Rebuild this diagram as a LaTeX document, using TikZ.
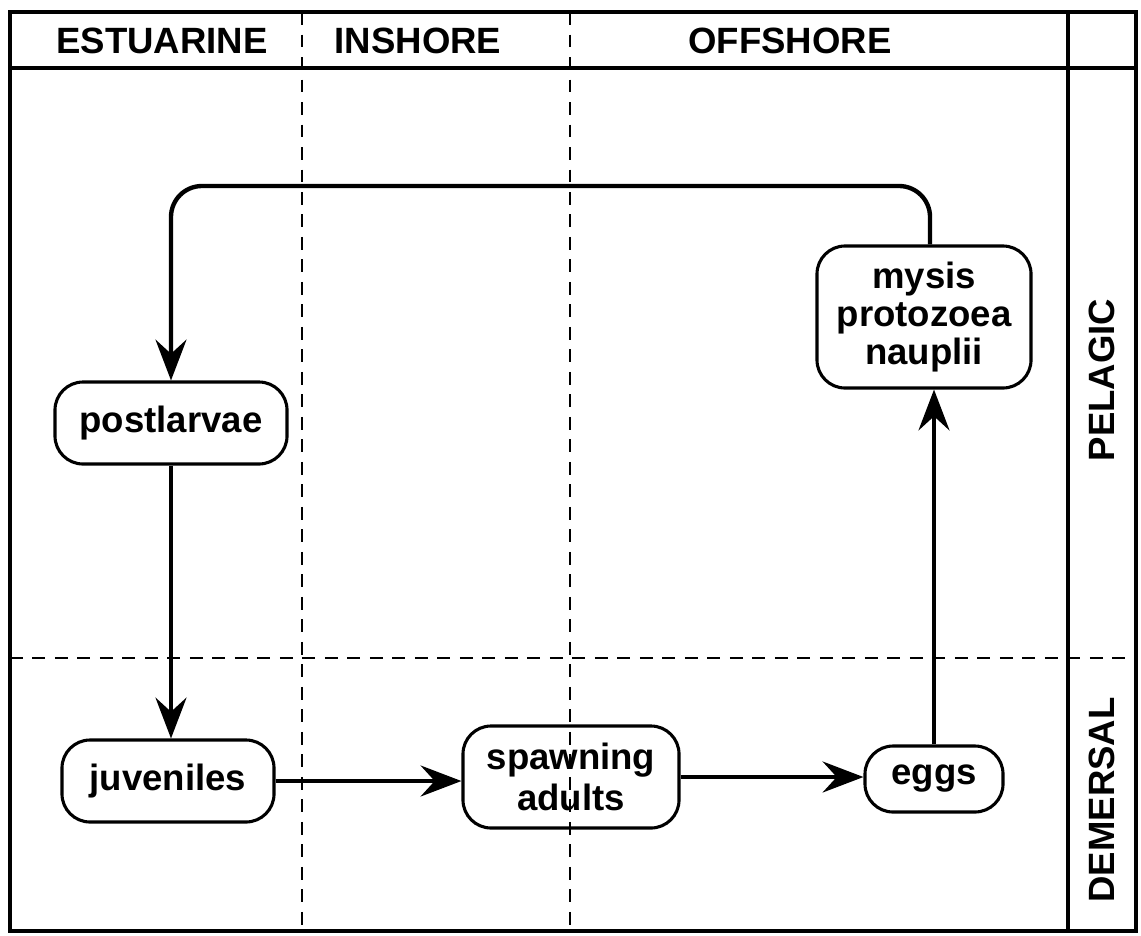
\documentclass[tikz,border=0pt]{standalone}
\usepackage{fontspec}
\setmainfont{Liberation Sans}
\usetikzlibrary{arrows.meta}

\begin{document}
\begin{tikzpicture}[x=0.025cm, y=-0.025cm,
	font=\fontsize{26}{28}\selectfont\bfseries,
	stage/.style={draw, line width=2.2pt, rounded corners=20pt, align=center, inner sep=0pt},
	flow/.style={line width=3.1pt, -{Stealth[length=29pt, width=22pt, inset=10pt]}},
	zone/.style={line width=2pt, dash pattern=on 9pt off 7pt}]
	\useasboundingbox (0,0) rectangle (1141,935);

	% frame and zones
	\draw[line width=2.8pt] (10,12) rectangle (1136,931);
	\draw[line width=2.2pt] (10,68) -- (1136,68);
	\draw[line width=2.2pt] (1068,12) -- (1068,931);
	\draw[zone] (302,12) -- (302,931);
	\draw[zone] (570,12) -- (570,931);
	\draw[zone] (10,658) -- (1136,658);

	\node (estuarine) at (162,41) {ESTUARINE};
	\node (inshore) at (418,41) {INSHORE};
	\node (offshore) at (790,41) {OFFSHORE};
	\node[rotate=90] (pelagic) at (1102,380) {PELAGIC};
	\node[rotate=90] (demersal) at (1102,800) {DEMERSAL};

	% life stages
	\node[stage, minimum width=5.8cm, minimum height=2.05cm] (post) at (171,423) {postlarvae};
	\node[stage, minimum width=5.35cm, minimum height=3.55cm] (mysis) at (924,317) {mysis\\[-1pt]protozoea\\[-1pt]nauplii};
	\node[stage, minimum width=5.3cm, minimum height=2.05cm] (juv) at (168,781) {juveniles};
	\node[stage, minimum width=5.4cm, minimum height=2.55cm] (spawn) at (571,777) {spawning\\[1pt]adults};
	\node[stage, minimum width=3.45cm, minimum height=1.65cm] (eggs) at (934,779) {eggs};

	\coordinate (loop) at (550,186);

	\draw[flow] (juv.east) -- (juv.east -| spawn.west);
	\draw[flow] (spawn.east) -- (spawn.east -| eggs.west);
	\draw[flow] (eggs.north) -- (eggs.north |- mysis.south);
	\draw[flow, rounded corners=22pt] ([xshift=0.15cm]mysis.north) |- (loop) -| (post.north);
	\draw[flow] (post.south) -- (post.south |- juv.north);
\end{tikzpicture}
\end{document}
